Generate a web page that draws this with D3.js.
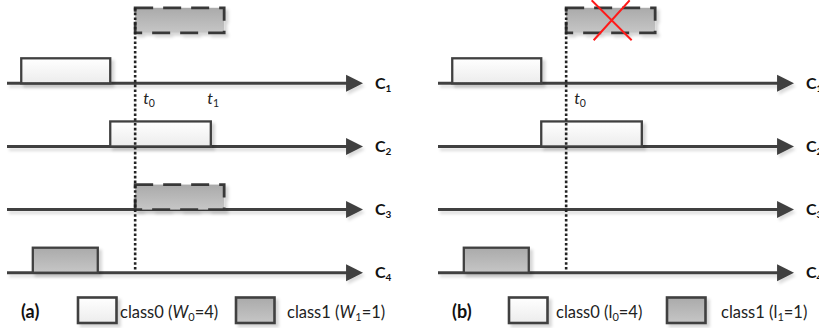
<!DOCTYPE html>
<html><head><meta charset="utf-8">
<script src="https://cdn.jsdelivr.net/npm/d3@7"></script>
<style>body{margin:0;background:#fff}svg{display:block}</style>
</head><body><svg id="c" width="819" height="328"></svg>
<script>
// ---- data ----
const laneNames = ["C", "C", "C", "C"];
const laneSubs = ["1", "2", "3", "4"];
const laneIdx = [1, 2, 3, 4];
const t0 = 14.4, t1 = 21.6;
// jobs: lane, start, end, class, dashed (pending)
const jobsA = [
  {lane: 1, start: 1.6, end: 11.6, cls: 0, dashed: false},
  {lane: 2, start: 11.6, end: 22.9, cls: 0, dashed: false},
  {lane: 3, start: 14.4, end: 24.4, cls: 1, dashed: true},
  {lane: 4, start: 2.9, end: 10.2, cls: 1, dashed: false},
  {lane: 0.2, start: 14.4, end: 24.4, cls: 1, dashed: true}
];
const jobsB = [
  {lane: 1, start: 1.6, end: 11.6, cls: 0, dashed: false},
  {lane: 2, start: 11.6, end: 22.9, cls: 0, dashed: false},
  {lane: 4, start: 2.9, end: 10.2, cls: 1, dashed: false},
  {lane: 0.2, start: 14.4, end: 24.4, cls: 1, dashed: true, rejected: true}
];
const panelLabels = ["(a)", "(b)"];
const legendA = [{name: "class0 (", v: "W", sub: "0", rest: "=4)", italic: true},
                 {name: "class1 (", v: "W", sub: "1", rest: "=1)", italic: true}];
const legendB = [{name: "class0 (", v: "l", sub: "0", rest: "=4)", italic: false},
                 {name: "class1 (", v: "l", sub: "1", rest: "=1)", italic: false}];

// ---- drawing ----
const svg = d3.select("#c");
const FONT = "Lato, 'Open Sans', sans-serif";
const INK = "#404040";
const defs = svg.append("defs");
const f = defs.append("filter").attr("id", "sh").attr("x", "-20%").attr("y", "-20%").attr("width", "150%").attr("height", "160%");
f.append("feDropShadow").attr("dx", 3).attr("dy", 3).attr("stdDeviation", 1.4)
  .attr("flood-color", "#000").attr("flood-opacity", 0.16);
const f2 = defs.append("filter").attr("id", "shl").attr("filterUnits", "userSpaceOnUse")
  .attr("x", -600).attr("y", -50).attr("width", 2200).attr("height", 450);
f2.append("feDropShadow").attr("dx", 2).attr("dy", 3).attr("stdDeviation", 1.4)
  .attr("flood-color", "#000").attr("flood-opacity", 0.14);
function grad(id, c1, c2) {
  const g = defs.append("linearGradient").attr("id", id).attr("x1", 0).attr("y1", 0).attr("x2", 0).attr("y2", 1);
  g.append("stop").attr("offset", "0%").attr("stop-color", c1);
  g.append("stop").attr("offset", "100%").attr("stop-color", c2);
}
grad("g0", "#ffffff", "#ececec");
grad("g1", "#aaaaaa", "#c6c6c6");
const fills = ["url(#g0)", "url(#g1)"];

const x = d3.scaleLinear().domain([0, 40]).range([7, 363]);
const y = d3.scaleLinear().domain([1, 4]).range([83.3, 272.7]);
const boxH = 25;

function panel(g, jobs, legend, label, showT1, textX) {
  // axes
  laneIdx.forEach((li, i) => {
    const yy = y(li);
    g.append("line").attr("x1", x(0)).attr("x2", x(38.5)).attr("y1", yy).attr("y2", yy)
      .attr("stroke", INK).attr("stroke-width", 3).attr("filter", "url(#shl)");
    g.append("path").attr("d", `M${x(38.1)},${yy - 8.5}L${x(40)},${yy}L${x(38.1)},${yy + 8.5}Z`)
      .attr("fill", INK).attr("filter", "url(#shl)");
    const t = g.append("text").attr("x", x(40) + 12).attr("y", yy + 5.5)
      .attr("font-family", FONT).attr("font-weight", "bold").attr("font-size", 16).attr("fill", "#111");
    t.append("tspan").text(laneNames[i]);
    t.append("tspan").attr("font-size", 10).attr("dy", 3).text(laneSubs[i]);
  });
  // jobs
  jobs.forEach(d => {
    const yb = y(d.lane);
    g.append("rect").attr("x", x(d.start)).attr("y", yb - boxH)
      .attr("width", x(d.end) - x(d.start)).attr("height", boxH)
      .attr("fill", fills[d.cls]).attr("stroke", d.dashed ? "#383838" : INK)
      .attr("stroke-width", d.dashed ? 2.8 : 2.3)
      .attr("stroke-dasharray", d.dashed ? "18,10" : null)
      .attr("filter", "url(#sh)");
    if (d.rejected) {
      const cx = (x(d.start) + x(d.end)) / 2, cy = yb - boxH / 2;
      g.append("path").attr("d", `M${cx - 19},${cy - 20}L${cx + 21},${cy + 20}M${cx + 19},${cy - 20}L${cx - 17},${cy + 20}`)
        .attr("stroke", "#ff1a1a").attr("stroke-width", 2).attr("fill", "none");
    }
  });
  // t0 dotted line
  g.append("line").attr("x1", x(t0)).attr("x2", x(t0)).attr("y1", y(0.2) - boxH).attr("y2", y(4) - 2)
    .attr("stroke", "#222").attr("stroke-width", 2.6).attr("stroke-dasharray", "2.6,2.2");
  function tlabel(v, s) {
    const t = g.append("text").attr("x", x(v) + 8).attr("y", y(1) + 20.5)
      .attr("font-family", FONT).attr("font-size", 16).attr("fill", "#222");
    t.append("tspan").attr("font-style", "italic").text("t");
    t.append("tspan").attr("font-size", 10.5).attr("dy", 3).text(s);
  }
  tlabel(t0, "0");
  if (showT1) tlabel(t1, "1");
  // legend
  const ly = 310;
  g.append("text").attr("x", 21).attr("y", ly + 8).attr("font-family", FONT)
    .attr("font-weight", "bold").attr("font-size", 18).attr("fill", "#111").text(label);
  const lx = [78, 236];
  legend.forEach((L, i) => {
    g.append("rect").attr("x", lx[i]).attr("y", 297.5).attr("width", 38.5).attr("height", 25.5)
      .attr("fill", fills[i]).attr("stroke", INK).attr("stroke-width", 2.6).attr("filter", "url(#sh)");
    const t = g.append("text").attr("x", textX[i]).attr("y", ly + 8)
      .attr("font-family", FONT).attr("font-size", 16.5).attr("fill", "#222");
    t.append("tspan").text(L.name);
    t.append("tspan").attr("font-style", L.italic ? "italic" : "normal").text(L.v);
    t.append("tspan").attr("font-size", 11).attr("dy", 3).text(L.sub);
    t.append("tspan").attr("dy", -3).text(L.rest);
  });
}
panel(svg.append("g"), jobsA, legendA, panelLabels[0], true, [120, 287]);
panel(svg.append("g").attr("transform", "translate(431,0)"), jobsB, legendB, panelLabels[1], false, [125, 290]);
</script></body></html>
